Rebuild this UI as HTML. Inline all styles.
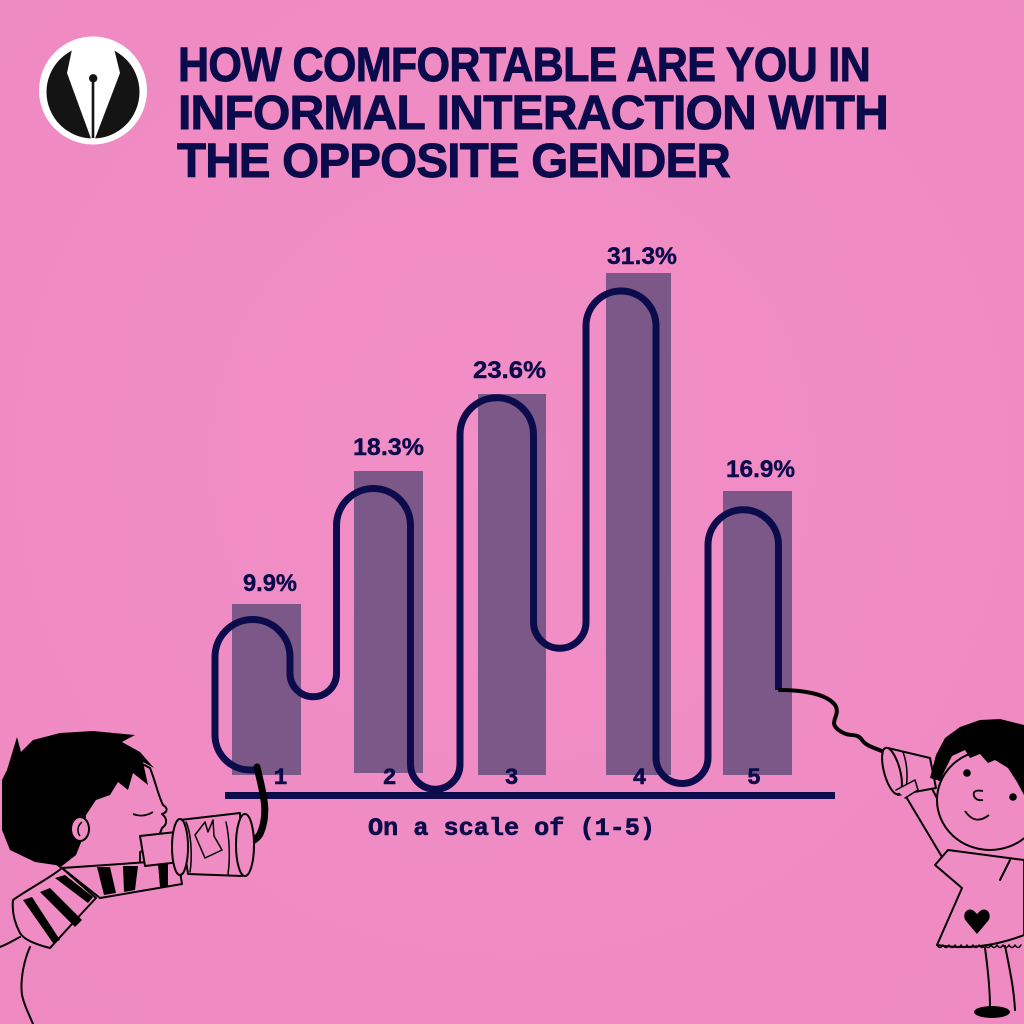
<!DOCTYPE html>
<html>
<head>
<meta charset="utf-8">
<style>
  html,body{margin:0;padding:0;background:#f08cc4;}
  svg{display:block;}
</style>
</head>
<body>
<svg width="1024" height="1024" viewBox="0 0 1024 1024" xmlns="http://www.w3.org/2000/svg">
  <defs>
    <radialGradient id="bg" cx="50%" cy="45%" r="75%">
      <stop offset="0" stop-color="#f28fc6"/>
      <stop offset="1" stop-color="#ee89c1"/>
    </radialGradient>
  </defs>
  <rect x="0" y="0" width="1024" height="1024" fill="url(#bg)"/>

  <!-- Logo -->
  <circle cx="93" cy="90.5" r="54" fill="#ffffff"/>
  <circle cx="93" cy="92" r="46.5" fill="#141414"/>
  <polygon points="74,40 67,73 91.5,140 94.5,140 120,73 112,40" fill="#ffffff"/>
  <line x1="93" y1="78" x2="93" y2="138" stroke="#141414" stroke-width="2.6"/>
  <circle cx="93.2" cy="78.3" r="4.2" fill="#141414"/>

  <!-- Title -->
  <g font-family="'Liberation Sans', Arial, sans-serif" font-weight="bold" font-size="48" fill="#0b0a4a" stroke="#0b0a4a" stroke-width="0.9" letter-spacing="-0.8">
    <text x="178" y="81" textLength="692" lengthAdjust="spacingAndGlyphs">HOW COMFORTABLE ARE YOU IN</text>
    <text x="178" y="129" textLength="710" lengthAdjust="spacingAndGlyphs">INFORMAL INTERACTION WITH</text>
    <text x="177" y="177" textLength="553" lengthAdjust="spacingAndGlyphs">THE OPPOSITE GENDER</text>
  </g>

  <!-- Bars -->
  <g fill="#7b5888">
    <rect x="232" y="604" width="69" height="171"/>
    <rect x="354" y="471" width="69" height="302"/>
    <rect x="478" y="394" width="68" height="381"/>
    <rect x="606" y="273" width="65" height="502"/>
    <rect x="723" y="491" width="69" height="284"/>
  </g>

  <!-- Value labels -->
  <g font-family="'Liberation Sans', Arial, sans-serif" font-weight="bold" font-size="24" fill="#0b0a4a" stroke="#0b0a4a" stroke-width="0.4">
    <text x="243" y="591" textLength="54" lengthAdjust="spacingAndGlyphs">9.9%</text>
    <text x="353" y="455" textLength="71" lengthAdjust="spacingAndGlyphs">18.3%</text>
    <text x="473" y="378" textLength="73" lengthAdjust="spacingAndGlyphs">23.6%</text>
    <text x="607" y="264" textLength="70" lengthAdjust="spacingAndGlyphs">31.3%</text>
    <text x="726" y="477" textLength="69" lengthAdjust="spacingAndGlyphs">16.9%</text>
  </g>

  <!-- Category labels -->
  <g font-family="'Liberation Mono', 'DejaVu Sans Mono', monospace" font-weight="bold" font-size="23" fill="#0b0a4a" stroke="#0b0a4a" stroke-width="0.6" text-anchor="middle">
    <text x="280.5" y="784">1</text>
    <text x="389.5" y="784">2</text>
    <text x="511.5" y="784">3</text>
    <text x="639.5" y="784">4</text>
    <text x="754" y="784">5</text>
  </g>

  <!-- Wire (navy) -->
  <path d="M 256 770 L 250 770 A 35 35 0 0 1 215 735 L 215 657 A 37.5 37.5 0 0 1 290 657 L 290 673.5 A 23.25 23.25 0 0 0 336.5 673.5 L 336.5 525.5 A 37 37 0 0 1 410.5 525.5 L 410.5 764.5 A 24.75 24.75 0 0 0 460 764.5 L 460 434.5 A 36.75 36.75 0 0 1 533.5 434.5 L 533.5 622 A 26.25 26.25 0 0 0 586 622 L 586 326 A 35 35 0 0 1 656 326 L 656 757.5 A 26 26 0 0 0 708 757.5 L 708 545 A 35.25 35.25 0 0 1 778.5 545 L 778.5 690"
        fill="none" stroke="#0c0b4b" stroke-width="7" stroke-linejoin="round"/>

  <!-- Axis line -->
  <rect x="225" y="792" width="610" height="7" fill="#0c0b4b"/>

  <!-- Axis title -->
  <text x="368" y="835" font-family="'Liberation Mono', 'DejaVu Sans Mono', monospace" font-weight="bold" font-size="25" fill="#0b0a4a" stroke="#0b0a4a" stroke-width="0.6" textLength="287" lengthAdjust="spacingAndGlyphs">On a scale of (1-5)</text>

  <!-- Black wires to cans -->
  <path d="M 257 767 C 262 790, 270 812, 260 834 C 255 842, 247 844, 236 844" fill="none" stroke="#000" stroke-width="7" stroke-linecap="round"/>
  <path d="M 780 690 C 800 690, 826 693, 835 705 C 842 716, 826 722, 840 731 C 850 738, 857 732, 862 740 C 867 747, 876 748, 886 753" fill="none" stroke="#000" stroke-width="4" stroke-linecap="round"/>

  <!-- Boy -->
  <g stroke="#000" stroke-width="2" stroke-linejoin="round" stroke-linecap="round">
    <path d="M 0 947 C 8 944, 14 940, 20 937" fill="none"/>
    <path d="M 30 947 C 24 960, 20 980, 22 995 C 24 1005, 28 1012, 33 1024" fill="none"/>
    <path d="M 13 900 C 30 888, 50 878, 62 868 L 96 898 C 80 915, 62 935, 50 948 C 38 945, 24 940, 20 933 C 14 922, 12 910, 13 900 Z" fill="#f08cc4"/>
    <path d="M 40 790 C 60 760, 120 750, 150 768 C 155 780, 158 795, 163 805 C 168 808, 168 812, 162 814 C 167 818, 168 824, 162 828 C 158 840, 150 850, 140 852 L 140 866 L 62 868 C 45 858, 38 830, 40 790 Z" fill="#f08cc4"/>
    <path d="M 62 868 L 178 860 L 182 884 L 100 898 Z" fill="#f08cc4"/>
    <path d="M 140 836 L 176 832 L 180 862 L 145 866 Z" fill="#f08cc4"/>
    <path d="M 180 820 L 240 813 L 242 876 L 188 874 Z" fill="#f08cc4"/>
    <ellipse cx="180" cy="847" rx="8" ry="28" fill="#f08cc4"/>
    <ellipse cx="245" cy="845" rx="9" ry="31" fill="#f08cc4"/>
    <path d="M 186 822 C 192 835, 192 860, 190 872" fill="none" stroke-width="1.5"/>
    <path d="M 195 835 L 205 822 L 208 832 L 213 820 L 214 836 L 222 850 L 205 858 Z" fill="#f08cc4" stroke-width="1.5"/>
    <path d="M 226 822 C 230 840, 230 860, 228 874" fill="none" stroke-width="1.5"/>
  </g>
  <path d="M 2 780 L 7 770 L 17 737 L 21 752 L 33 740 L 60 733 L 93 731 L 135 735 L 122 742 L 140 752 L 154 768 L 143 762 L 148 785 L 133 773 L 128 790 L 118 782 L 110 795 L 96 800 L 86 815 L 84 835 L 76 855 L 62 866 L 35 862 L 10 850 L 2 830 Z" fill="#000"/>
  <ellipse cx="80" cy="829" rx="9" ry="12" fill="#f08cc4" stroke="#000" stroke-width="2"/>
  <path d="M 82 822 C 77 826, 77 832, 80 836" fill="none" stroke="#000" stroke-width="1.5"/>
  <path d="M 133 814 Q 143 818 153 812" fill="none" stroke="#000" stroke-width="1.8"/>
  <g fill="#000">
    <polygon points="23,900 32,897 60,940 53,943"/>
    <polygon points="40,892 50,888 82,920 75,927"/>
    <polygon points="55,878 65,875 93,897 88,903"/>
    <polygon points="97,867 110,867 116,893 104,895"/>
    <polygon points="123,866 138,866 135,890 124,892"/>
    <polygon points="158,864 168,864 168,886 160,887"/>
  </g>

  <!-- Girl -->
  <g stroke="#000" stroke-width="2" stroke-linejoin="round" stroke-linecap="round" fill="#f08cc4">
    <path d="M 905 795 L 945 862" fill="none"/>
    <path d="M 930 785 L 958 838" fill="none"/>
    <path d="M 948 850 L 935 865 L 962 888 L 937 945 Q 980 952 1024 935 L 1024 860 Z"/>
    <path d="M 937 945 q 3 5 6 0 q 3 5 6 0 q 3 5 6 0 q 3 5 6 0 q 3 5 6 0 q 3 5 6 0 q 3 5 6 0 q 3 5 6 0 q 3 5 6 0 q 3 5 6 0 q 3 5 6 0 q 3 5 6 0 q 3 5 6 0 q 3 5 6 0" fill="none" stroke-width="1.5"/>
    <path d="M 1000 880 L 1010 860" fill="none"/>
    <path d="M 985 948 C 988 970, 990 990, 990 1008" fill="none"/>
    <path d="M 1005 946 C 1010 970, 1014 990, 1015 1010" fill="none"/>
    <ellipse cx="990" cy="800" rx="53" ry="50"/>
    <path d="M 888 748 L 930 758 L 936 788 L 898 795 Z"/>
    <ellipse cx="892" cy="771" rx="8" ry="24" transform="rotate(-15 892 771)"/>
    <path d="M 903 752 C 908 765, 908 782, 905 793" fill="none" stroke-width="1.5"/>
    <path d="M 896 790 L 915 780 L 918 790 L 905 798" fill="#f08cc4" stroke-width="1.5"/>
  </g>
  <path d="M 930 778 L 936 755 L 945 738 L 960 727 L 980 720 L 1000 719 L 1024 725 L 1024 795 L 1017 782 L 1008 768 L 995 760 L 988 763 L 980 754 L 970 758 L 965 750 L 952 756 L 945 770 L 940 781 Z" fill="#000"/>
  <circle cx="967" cy="773" r="3.8" fill="#000"/>
  <circle cx="1013" cy="797" r="3.8" fill="#000"/>
  <path d="M 983 791 Q 972 789 974 796 Q 976 801 983 800" fill="none" stroke="#000" stroke-width="1.8"/>
  <path d="M 965 811 Q 975 826 989 815" fill="none" stroke="#000" stroke-width="1.8"/>
  <path d="M 977 934 L 966 921 C 961 914, 968 906, 974 911 L 977 914 L 980 911 C 986 906, 993 914, 988 921 Z" fill="#000"/>
  <ellipse cx="992" cy="1012" rx="18" ry="6" fill="#000"/>
</svg>
</body>
</html>
